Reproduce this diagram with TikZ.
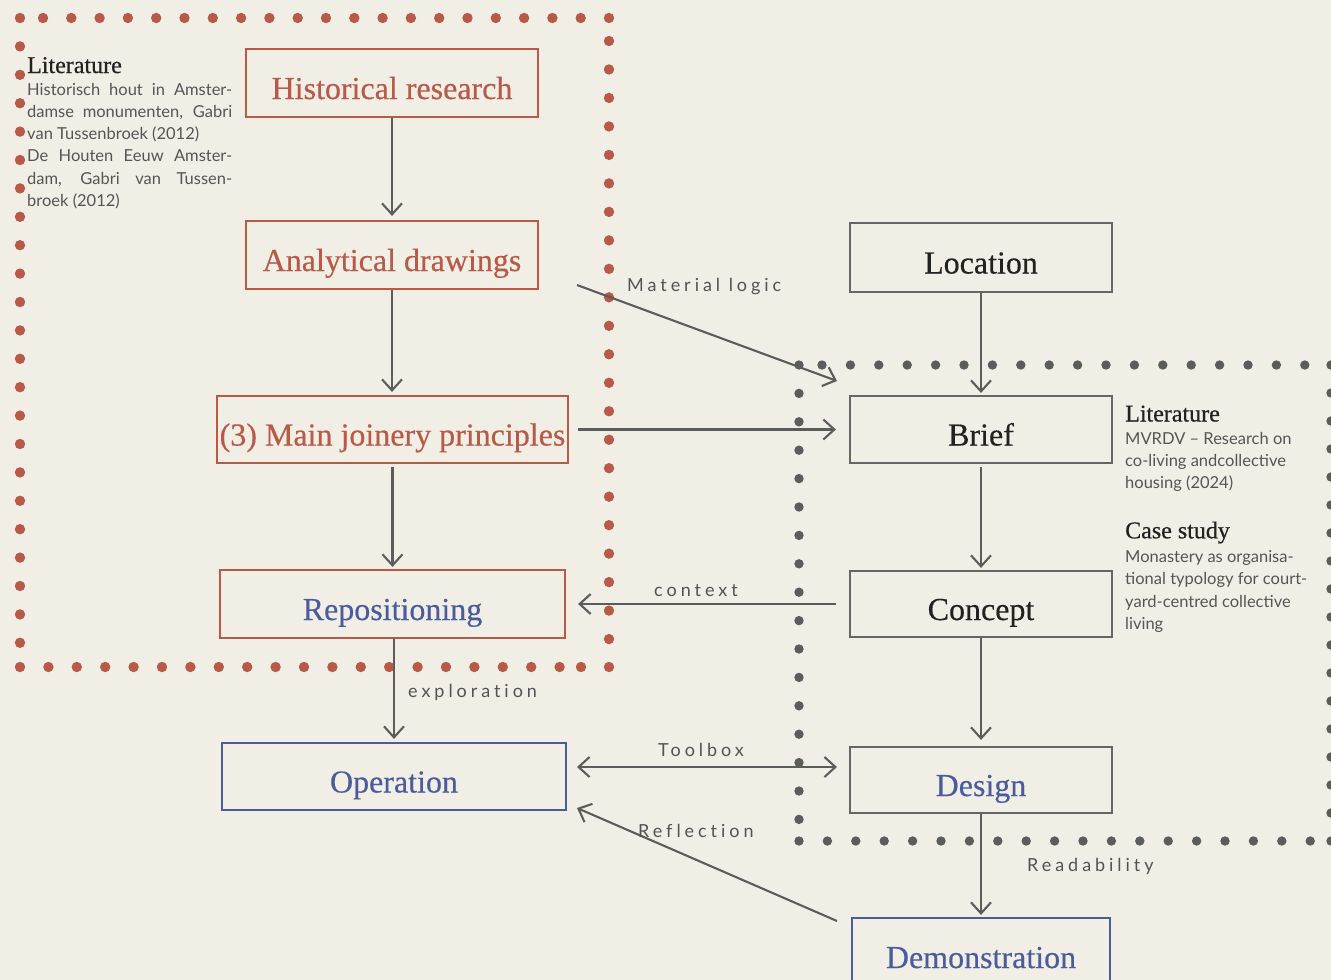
\documentclass[tikz,border=0pt]{standalone}
\usepackage{fontspec}
\setmainfont{Liberation Serif}
\newfontfamily\boxf[FakeBold=0.4]{Liberation Serif}
\newfontfamily\headf[FakeBold=0.6]{Liberation Serif}
\newfontfamily\sansf{Lato}
\newfontfamily\lblf[LetterSpace=22,Ligatures=NoCommon]{Lato}
\usetikzlibrary{arrows.meta}
\definecolor{bg}{HTML}{F1EEE6}
\definecolor{rd}{HTML}{B85A48}
\definecolor{bl}{HTML}{4A5C9E}
\definecolor{gr}{HTML}{5C5C5C}
\definecolor{grb}{HTML}{666666}
\definecolor{txt}{HTML}{222222}
\definecolor{bodyc}{HTML}{555555}
\begin{document}
\begin{tikzpicture}[x=1pt,y=-1pt,
  box/.style={rectangle, line width=2.2pt, inner sep=0pt, text height=32pt, text depth=0pt,
    font=\boxf\fontsize{32}{36}\selectfont},
  redbox/.style={box, draw=rd, text=rd},
  bluebox/.style={box, draw=bl, text=bl},
  graybox/.style={box, draw=grb, text=txt},
  conn/.style={draw=gr, line width=2.1pt, -{Straight Barb[length=11pt,width=20pt]}},
  lbl/.style={font=\lblf\fontsize{18}{20}\selectfont, text=gr!90!black, inner sep=0pt, anchor=base west},
  head/.style={font=\headf\fontsize{24}{28}\selectfont, text=txt, inner sep=0pt, anchor=base west},
  body/.style={font=\sansf\fontsize{16.5}{20}\selectfont, text=bodyc, inner sep=0pt, anchor=base west},
  rdot/.style={fill=rd},
  gdot/.style={fill=gr}]
\fill[bg] (0,0) rectangle (1331,980);
\useasboundingbox (0,0) rectangle (1331,980);

% red dotted frame
\fill[rdot] (20,18) circle (5.2);
\foreach \i in {0,...,20} \fill[rdot] (43+28.3*\i,18) circle (5.2);
\foreach \i in {0,...,21} \fill[rdot] (609,41+28.48*\i) circle (5.2);
\fill[rdot] (609,667) circle (5.2);
\foreach \i in {0,...,19} \fill[rdot] (20+28.4*\i,667) circle (5.2);
\fill[rdot] (581,667) circle (5.2);
\foreach \i in {1,...,22} \fill[rdot] (20,18+28.4*\i) circle (5.2);

% gray dotted frame
\fill[gdot] (799,365) circle (4.7);
\foreach \i in {0,...,17} \fill[gdot] (822+28.4*\i,365) circle (4.7);
\foreach \i in {0,...,16} \fill[gdot] (1331,365+28*\i) circle (4.7);
\foreach \i in {0,...,18} \fill[gdot] (799+28.4*\i,841) circle (4.7);
\fill[gdot] (1331,841) circle (4.7);
\foreach \i in {1,...,16} \fill[gdot] (799,365+28.4*\i) circle (4.7);

% boxes
\node[redbox, minimum width=292, minimum height=68] (hist) at (392,83) {Historical research};
\node[redbox, minimum width=292, minimum height=68] (anal) at (392,255) {Analytical drawings};
\node[redbox, minimum width=351, minimum height=67] (main) at (392.5,429.5) {(3) Main joinery principles};
\node[box, draw=rd, text=bl, minimum width=345, minimum height=68] (repo) at (392.5,604) {Repositioning};
\node[bluebox, minimum width=344, minimum height=67] (oper) at (394,776.5) {Operation};
\node[graybox, minimum width=262, minimum height=69] (loc) at (981,257.5) {Location};
\node[graybox, minimum width=262, minimum height=67] (brief) at (981,429.5) {Brief};
\node[graybox, minimum width=262, minimum height=66] (concept) at (981,604) {Concept};
\node[box, draw=grb, text=bl, minimum width=262, minimum height=66] (design) at (981,780) {Design};
\node[bluebox, minimum width=258, minimum height=68] (demo) at (981,952) {Demonstration};

% side texts
\node[head] (litA) at (27,73) {Literature};
\node[body] (la1) at (27,95) {\makebox[205pt][s]{Historisch hout in Amster-}};
\node[body] (la2) at (27,117.3) {\makebox[205pt][s]{damse monumenten, Gabri}};
\node[body] (la3) at (27,139.6) {van Tussenbroek (2012)};
\node[body] (la4) at (27,161.9) {\makebox[205pt][s]{De Houten Eeuw Amster-}};
\node[body] (la5) at (27,184.2) {\makebox[205pt][s]{dam, Gabri van Tussen-}};
\node[body] (la6) at (27,206.5) {broek (2012)};

\node[head] (litB) at (1125,421.5) {Literature};
\node[body] (lb1) at (1125,444) {MVRDV – Research on};
\node[body] (lb2) at (1125,466.3) {co-living andcollective};
\node[body] (lb3) at (1125,488.6) {housing (2024)};
\node[head] (cs) at (1125,538.3) {Case study};
\node[body] (cs1) at (1125,562.5) {Monastery as organisa-};
\node[body] (cs2) at (1125,584.8) {tional typology for court-};
\node[body] (cs3) at (1125,607.1) {yard-centred collective};
\node[body] (cs4) at (1125,629.4) {living};

% connectors
\draw[conn, shorten >=4pt] (hist.south) -- (anal.north);
\draw[conn, shorten >=3pt] (anal.south) -- (anal.south |- main.north);
\draw[conn, shorten <=3pt, shorten >=2pt] (main.south) -- (repo.north);
\draw[conn, shorten >=3pt] (oper.north |- repo.south) -- (oper.north);
\draw[conn, shorten >=2pt] (loc.south) -- (brief.north);
\draw[conn, shorten <=3pt, shorten >=2pt] (brief.south) -- (concept.north);
\draw[conn, shorten >=6pt] (concept.south) -- (design.north);
\draw[conn, shorten >=2pt] (design.south) -- (demo.north);
\draw[conn, shorten <=9pt, shorten >=13pt] (main.east) -- (brief.west);
\draw[conn, shorten <=13pt, shorten >=12pt] (concept.west) -- (repo.east);

\coordinate (mlA) at (577,285);
\coordinate (mlB) at (837,381);
\draw[conn] (mlA) -- (mlB);
\coordinate (tbA) at (577,767);
\coordinate (tbB) at (837,767);
\draw[conn, {Straight Barb[length=11pt,width=20pt]}-{Straight Barb[length=11pt,width=20pt]}] (tbA) -- (tbB);
\coordinate (rfA) at (837,921);
\coordinate (rfB) at (577,808);
\draw[conn] (rfA) -- (rfB);

% labels
\node[lbl] (lml) at (627,291.5) {Material logic};
\node[lbl] (lctx) at (654,596.5) {context};
\node[lbl] (lexp) at (408,697) {exploration};
\node[lbl] (ltb) at (658,756) {Toolbox};
\node[lbl] (lrf) at (638,837) {Reflection};
\node[lbl] (lrd) at (1027,871) {Readability};
\end{tikzpicture}
\end{document}
